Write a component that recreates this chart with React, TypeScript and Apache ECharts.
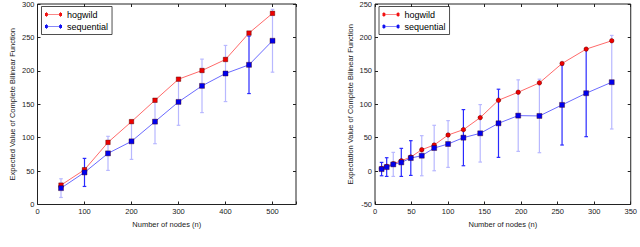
import React, { useEffect, useRef } from "react";
import * as echarts from "echarts";

// Left chart
const leftX = [50, 100, 150, 200, 250, 300, 350, 400, 450, 500];
const leftHog = [29, 52, 93, 124, 156, 187.5, 200.5, 217, 256.5, 286];
const leftHogErr = [2, 2, 2, 2, 2, 2, 2, 2, 2, 2];
const leftSeq = [24.5, 48, 76.5, 94.5, 124, 153.5, 177.5, 196, 209, 245];
const leftSeqErr = [14, 21, 25.5, 27, 33, 35, 40, 42, 43, 47];
const leftSeqErrDark = [0, 1, 0, 0, 0, 0, 0, 0, 1, 0];

// Right chart
const rightX = [9, 16, 25, 36, 49, 64, 81, 100, 121, 144, 169, 196, 225, 256, 289, 324];
const rightHog = [4, 7, 11, 15.5, 21, 32, 39, 54, 62, 80, 106, 118, 132, 161, 182.5, 195];
const rightHogErr = [1.5, 1.5, 1.5, 1.5, 1.5, 1.5, 1.5, 1.5, 1.5, 1.5, 1.5, 1.5, 1.5, 1.5, 1.5, 1.5];
const rightSeq = [3, 6, 10, 13, 19.5, 23, 34.5, 40.5, 50, 56.5, 71.5, 83, 82.5, 99, 116.5, 133];
const rightSeqErr = [10, 14, 18, 21, 26, 30, 34, 35, 42, 43, 51, 53.5, 55, 60, 65, 70];
const rightSeqErrDark = [1, 1, 0, 1, 1, 0, 0, 0, 1, 0, 1, 0, 0, 1, 1, 0];

const leftXTicks = { min: 0, max: 550, interval: 100 };
const leftYTicks = { min: 0, max: 300, interval: 50 };
const rightXTicks = { min: 0, max: 350, interval: 50 };
const rightYTicks = { min: -50, max: 250, interval: 50 };

const FONT = "Liberation Sans";
const ICON =
  "path://M0,3.5 H24 V4.5 H0 Z M1.5,0.5 H2.5 V7.5 H1.5 Z M21.5,0.5 H22.5 V7.5 H21.5 Z M0,2 H4 V6 H0 Z M20,2 H24 V6 H20 Z";

function errData(xs: number[], ys: number[], errs: number[], dark?: number[]) {
  return xs.map((x, i) => [x, ys[i] - errs[i], ys[i] + errs[i], dark ? dark[i] : 1]);
}

function errSeries(name: string, xi: number, data: any[], darkColor: string, lightColor: string) {
  return {
    name,
    type: "custom",
    xAxisIndex: xi,
    yAxisIndex: xi,
    data,
    encode: { x: 0, y: [1, 2] },
    z: 2,
    renderItem: (params: any, api: any) => {
      const x = api.value(0);
      const lo = api.value(1);
      const hi = api.value(2);
      const dark = api.value(3);
      const top = api.coord([x, hi]);
      const bot = api.coord([x, lo]);
      const color = dark ? darkColor : lightColor;
      const st = { stroke: color, lineWidth: 1.2 };
      const cw = 1.8;
      return {
        type: "group",
        children: [
          { type: "line", shape: { x1: top[0], y1: top[1], x2: bot[0], y2: bot[1] }, style: st },
          { type: "line", shape: { x1: top[0] - cw, y1: top[1], x2: top[0] + cw, y2: top[1] }, style: st },
          { type: "line", shape: { x1: bot[0] - cw, y1: bot[1], x2: bot[0] + cw, y2: bot[1] }, style: st },
        ],
      };
    },
  };
}

function lineSeries(name: string, xi: number, xs: number[], ys: number[], lineColor: string, markColor: string, symbol: string, size: number) {
  return {
    name,
    type: "line",
    xAxisIndex: xi,
    yAxisIndex: xi,
    data: xs.map((x, i) => [x, ys[i]]),
    symbol,
    symbolSize: size,
    showSymbol: true,
    z: 3,
    lineStyle: { color: lineColor, width: 1 },
    itemStyle: { color: markColor, borderColor: "#400", borderWidth: 0.4, opacity: 1 },
  };
}

function xAxes(gridIndex: number, t: any) {
  return [
    {
      type: "value",
      gridIndex,
      ...t,
      position: "bottom",
      name: "Number of nodes (n)",
      nameLocation: "middle",
      nameGap: 15,
      nameTextStyle: { fontSize: 7.5, color: "#222", fontFamily: FONT },
      axisLine: { show: false, onZero: false },
      axisTick: { show: true, inside: true, length: 3, lineStyle: { color: "#222" } },
      axisLabel: {
        fontSize: 7.5,
        color: "#222",
        fontFamily: FONT,
        margin: 3,
        formatter: (v: number) => (v % t.interval === 0 ? String(v) : ""),
      },
      splitLine: { show: false },
    },
    {
      type: "value",
      gridIndex,
      ...t,
      position: "top",
      axisLine: { show: false, onZero: false },
      axisTick: { show: true, inside: true, length: 3, lineStyle: { color: "#222" } },
      axisLabel: { show: false },
      splitLine: { show: false },
    },
  ];
}

function yAxes(gridIndex: number, t: any, name: string) {
  return [
    {
      type: "value",
      gridIndex,
      ...t,
      position: "left",
      name,
      nameLocation: "middle",
      nameGap: 21,
      nameTextStyle: { fontSize: 7.5, color: "#222", fontFamily: FONT },
      axisLine: { show: false, onZero: false },
      axisTick: { show: true, inside: true, length: 3, lineStyle: { color: "#222" } },
      axisLabel: { fontSize: 7.5, color: "#222", fontFamily: FONT, margin: 3 },
      splitLine: { show: false },
    },
    {
      type: "value",
      gridIndex,
      ...t,
      position: "right",
      axisLine: { show: false, onZero: false },
      axisTick: { show: true, inside: true, length: 3, lineStyle: { color: "#222" } },
      axisLabel: { show: false },
      splitLine: { show: false },
    },
  ];
}

function legend(left: number) {
  return {
    orient: "vertical",
    left,
    top: 6.5,
    selectedMode: false,
    borderColor: "#222",
    borderWidth: 0.8,
    padding: [3.5, 4, 3.5, 3.5],
    itemWidth: 17,
    itemHeight: 8,
    itemGap: 3,
    itemTextGap: 5,
    textStyle: { fontSize: 9, color: "#000", fontFamily: FONT },
    data: [
      { name: "hogwild", icon: ICON, itemStyle: { color: "#f21010", borderWidth: 0 } },
      { name: "sequential", icon: ICON, itemStyle: { color: "#1010f2", borderWidth: 0 } },
    ],
  };
}

export default function App() {
  const ref = useRef<HTMLDivElement>(null);
  useEffect(() => {
    if (!ref.current) return;
    const chart = echarts.init(ref.current, undefined, { renderer: "svg" });
    const [lx0, lx1] = xAxes(0, leftXTicks);
    const [rx0, rx1] = xAxes(1, rightXTicks);
    const [ly0, ly1] = yAxes(0, leftYTicks, "Expected Value of Complete Bilinear Function");
    const [ry0, ry1] = yAxes(1, rightYTicks, "Expectation Value of Complete Bilinear Function");
    const xAx: any[] = [lx0, lx1, rx0, rx1];
    const yAx: any[] = [ly0, ly1, ry0, ry1];
    chart.setOption({
      animation: false,
      backgroundColor: "#fff",
      grid: [
        { left: 37.5, top: 3.5, width: 258.5, height: 201, show: true, borderColor: "#222", borderWidth: 1, backgroundColor: "transparent" },
        { left: 375, top: 3.5, width: 259.5, height: 201, show: true, borderColor: "#222", borderWidth: 1, backgroundColor: "transparent" },
      ],
      xAxis: xAx,
      yAxis: yAx,
      legend: [legend(41.5), legend(379)],
      series: [
        errSeries("hogwild err L", 0, errData(leftX, leftHog, leftHogErr), "#e00000", "#e00000"),
        lineSeries("hogwild", 0, leftX, leftHog, "#ff6a6a", "#ee0000", "rect", 4.5),
        errSeries("sequential err L", 0, errData(leftX, leftSeq, leftSeqErr, leftSeqErrDark), "#2a2aff", "#b8b8ff"),
        lineSeries("sequential", 0, leftX, leftSeq, "#6a6aff", "#0000ee", "rect", 5),
        errSeries("hogwild err R", 2, errData(rightX, rightHog, rightHogErr), "#e00000", "#e00000"),
        lineSeries("hogwild", 2, rightX, rightHog, "#ff6a6a", "#ee0000", "circle", 4.5),
        errSeries("sequential err R", 2, errData(rightX, rightSeq, rightSeqErr, rightSeqErrDark), "#2a2aff", "#b8b8ff"),
        lineSeries("sequential", 2, rightX, rightSeq, "#6a6aff", "#0000ee", "rect", 5),
      ],
    });
    return () => chart.dispose();
  }, []);
  return (
    <div
      ref={ref}
      style={{ position: "absolute", left: 0, top: 0, width: 640, height: 247 }}
    />
  );
}
